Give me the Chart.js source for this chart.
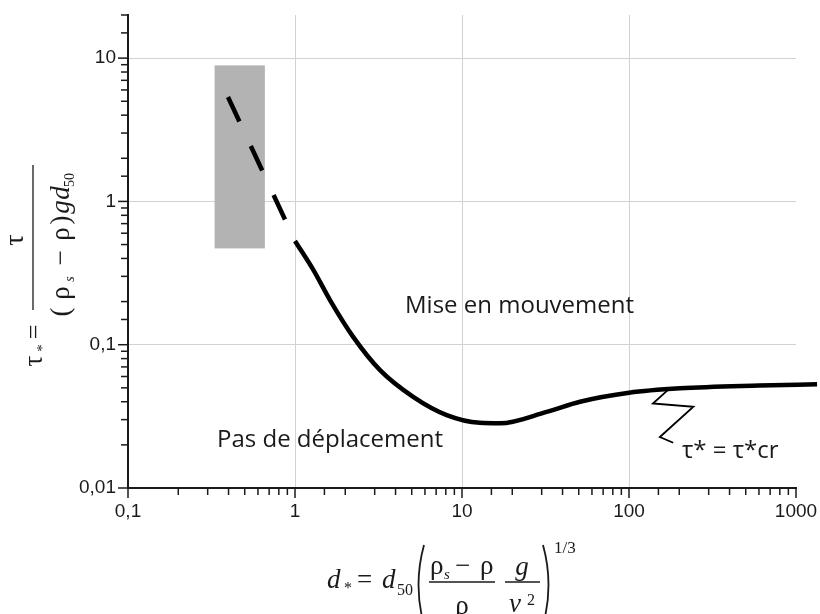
<!DOCTYPE html>
<html>
<head>
<meta charset="utf-8">
<script src="https://cdn.jsdelivr.net/npm/chart.js@4.4.1/dist/chart.umd.min.js"></script>
<style>
  html, body { margin: 0; padding: 0; background: #fff; }
  canvas { display: block; }
</style>
</head>
<body>
<canvas id="shields" width="820" height="614"></canvas>
<script>
'use strict';

// critical Shields curve: d* -> tau*cr (last point runs past the axis end, as in the figure)
const curveD = [1, 1.29, 1.62, 2.23, 3.23, 5.1, 8.1, 12.8, 16.9, 32.1, 50.9, 100, 202, 600, 1337];
const curveTau = [0.53, 0.332, 0.205, 0.1135, 0.0665, 0.0433, 0.0323, 0.0285, 0.0283, 0.034, 0.040, 0.0462, 0.0496, 0.0519, 0.053];

// extrapolated part (dashed)
const dashD = [0.397, 1];
const dashTau = [5.35, 0.53];

// grey zone
const zoneD = [0.33, 0.66];
const zoneTau = [0.47, 8.9];

// leader from the curve to its label
const leaderD = [176, 139, 243, 153, 184];
const leaderTau = [0.0498, 0.0389, 0.0369, 0.0227, 0.0207];

const xTickValues = [0.1, 1, 10, 100, 1000];
const xTickLabels = ['0,1', '1', '10', '100', '1000'];
const yTickValues = [0.01, 0.1, 1, 10];
const yTickLabels = ['0,01', '0,1', '1', '10'];
const xGridValues = [1, 10, 100];
const yGridValues = [0.1, 1, 10];

const INK = '#1a1a1a';
const SERIF = '"Liberation Serif", "DejaVu Serif", serif';
const SANS = '"Open Sans", "Noto Sans", sans-serif';

const sameValue = (a, b) => Math.abs(Math.log10(a) - Math.log10(b)) < 1e-6;
const isDecade = v => Math.abs(Math.log10(v) - Math.round(Math.log10(v))) < 1e-6;
const toPoints = (xs, ys) => xs.map((x, i) => ({ x, y: ys[i] }));

function tickLabel(values, labels) {
  return v => {
    const i = values.findIndex(t => sameValue(t, v));
    return i < 0 ? '' : labels[i];
  };
}

function gridColor(values) {
  return ctx => (ctx.tick && values.some(v => sameValue(v, ctx.tick.value)) ? '#d2d2d2' : 'rgba(0,0,0,0)');
}

// labels may overhang the plot area, like in the original figure
function noOverhang(s) {
  s.paddingLeft = s.paddingRight = s.paddingTop = s.paddingBottom = 0;
}

function drawTickMarks(ctx, scale, horizontal) {
  ctx.save();
  ctx.strokeStyle = INK;
  ctx.lineWidth = 1.5;
  scale.ticks.forEach(t => {
    const p = scale.getPixelForValue(t.value);
    const len = isDecade(t.value) ? 10 : 7;
    ctx.beginPath();
    if (horizontal) {
      ctx.moveTo(p, scale.top);
      ctx.lineTo(p, scale.top + len);
    } else {
      ctx.moveTo(scale.right, p);
      ctx.lineTo(scale.right - len, p);
    }
    ctx.stroke();
  });
  ctx.restore();
}

function txt(ctx, s, x, y, size, style, align) {
  ctx.font = `${style || ''} ${size}px ${SERIF}`;
  ctx.textAlign = align || 'left';
  ctx.fillText(s, x, y);
}

// tall thin parenthesis, dir = 1 for "(" and -1 for ")"
function bigParen(ctx, x, top, bottom, dir) {
  ctx.save();
  ctx.lineWidth = 1.8;
  ctx.beginPath();
  ctx.moveTo(x + 5 * dir, top);
  ctx.quadraticCurveTo(x - 6 * dir, (top + bottom) / 2, x + 5 * dir, bottom);
  ctx.stroke();
  ctx.restore();
}

function bar(ctx, x1, x2, y) {
  ctx.beginPath();
  ctx.moveTo(x1, y);
  ctx.lineTo(x2, y);
  ctx.stroke();
}

function drawXTitle(ctx) {
  ctx.save();
  ctx.fillStyle = INK;
  ctx.strokeStyle = INK;
  ctx.lineWidth = 1.3;
  txt(ctx, 'd', 327, 588, 27, 'italic');
  txt(ctx, '*', 344, 593, 16);
  txt(ctx, '=', 357, 588, 27);
  txt(ctx, 'd', 382, 588, 27, 'italic');
  txt(ctx, '50', 397, 595, 16);
  bigParen(ctx, 419, 545, 625, 1);
  txt(ctx, 'ρ', 430, 574, 27);
  txt(ctx, 's', 444, 579, 15, 'italic');
  txt(ctx, '−', 455, 574, 27);
  txt(ctx, 'ρ', 480, 574, 27);
  bar(ctx, 429, 495, 582);
  txt(ctx, 'ρ', 462, 614, 27, '', 'center');
  txt(ctx, 'g', 522, 575, 27, 'italic', 'center');
  bar(ctx, 505, 540, 582);
  txt(ctx, 'ν', 515, 612, 27, 'italic', 'center');
  txt(ctx, '2', 527, 605, 16);
  bigParen(ctx, 548, 545, 625, -1);
  txt(ctx, '1/3', 554, 553, 17);
  ctx.restore();
}

function drawYTitle(ctx) {
  ctx.save();
  ctx.translate(33, 370);
  ctx.rotate(-Math.PI / 2);
  ctx.fillStyle = INK;
  ctx.strokeStyle = INK;
  ctx.lineWidth = 1.3;
  txt(ctx, 'τ', 9, 9, 27, '', 'center');
  txt(ctx, '*', 22, 14, 15, '', 'center');
  txt(ctx, '=', 38, 9, 26, '', 'center');
  bar(ctx, 60, 205, 0);
  txt(ctx, 'τ', 130, -10, 28, '', 'center');
  const v = 36;
  txt(ctx, '(', 58, v, 27, '', 'center');
  txt(ctx, 'ρ', 77, v, 27, '', 'center');
  txt(ctx, 's', 91, v + 5, 14, 'italic', 'center');
  txt(ctx, '−', 112, v, 27, '', 'center');
  txt(ctx, 'ρ', 136, v, 27, '', 'center');
  txt(ctx, ')', 150, v, 27, '', 'center');
  txt(ctx, 'g', 163, v, 27, 'italic', 'center');
  txt(ctx, 'd', 177, v, 27, 'italic', 'center');
  txt(ctx, '50', 190, v + 5, 14, '', 'center');
  ctx.restore();
}

const extrasPlugin = {
  id: 'extras',
  beforeDatasetsDraw(chart) {
    const { ctx, scales: { x, y } } = chart;
    const left = x.getPixelForValue(zoneD[0]);
    const right = x.getPixelForValue(zoneD[1]);
    const top = y.getPixelForValue(zoneTau[1]);
    const bottom = y.getPixelForValue(zoneTau[0]);
    ctx.save();
    ctx.fillStyle = '#b3b3b3';
    ctx.fillRect(left, top, right - left, bottom - top);
    ctx.restore();
  },
  afterDraw(chart) {
    const { ctx, scales: { x, y } } = chart;
    drawTickMarks(ctx, x, true);
    drawTickMarks(ctx, y, false);

    ctx.save();
    ctx.fillStyle = INK;
    ctx.textBaseline = 'alphabetic';
    ctx.textAlign = 'left';
    ctx.font = `24px ${SANS}`;
    ctx.fillText('Mise en mouvement', 405, 313);
    ctx.fillText('Pas de déplacement', 217, 447);
    ctx.fillText('τ* = τ*cr', 682, 458);
    ctx.restore();

    drawXTitle(ctx);
    drawYTitle(ctx);
  },
};

const tickFont = { family: '"Liberation Sans", Arial, sans-serif', size: 19 };

new Chart(document.getElementById('shields').getContext('2d'), {
  type: 'line',
  data: {
    datasets: [
      {
        data: toPoints(curveD, curveTau),
        borderColor: '#000',
        borderWidth: 4.5,
        pointRadius: 0,
        cubicInterpolationMode: 'monotone',
        clip: false,
      },
      {
        data: toPoints(dashD, dashTau),
        borderColor: '#000',
        borderWidth: 4.5,
        borderDash: [27, 27],
        borderCapStyle: 'butt',
        pointRadius: 0,
        tension: 0,
        clip: false,
      },
      {
        data: toPoints(leaderD, leaderTau),
        borderColor: '#000',
        borderWidth: 1.8,
        borderJoinStyle: 'miter',
        pointRadius: 0,
        tension: 0,
        clip: false,
      },
    ],
  },
  options: {
    responsive: false,
    animation: false,
    events: [],
    layout: { padding: { top: 15, right: 24, left: 0, bottom: 0 } },
    plugins: { legend: { display: false }, tooltip: { enabled: false } },
    scales: {
      x: {
        type: 'logarithmic',
        min: 0.1,
        max: 1000,
        afterFit: s => { s.height = 126; noOverhang(s); },
        grid: { drawTicks: false, color: gridColor(xGridValues), lineWidth: 1 },
        border: { display: true, color: INK, width: 2 },
        ticks: {
          autoSkip: false,
          maxRotation: 0,
          padding: 12,
          color: INK,
          font: tickFont,
          callback: tickLabel(xTickValues, xTickLabels),
        },
      },
      y: {
        type: 'logarithmic',
        min: 0.01,
        max: 20,
        afterFit: s => { s.width = 128; noOverhang(s); },
        grid: { drawTicks: false, color: gridColor(yGridValues), lineWidth: 1 },
        border: { display: true, color: INK, width: 2 },
        ticks: {
          autoSkip: false,
          padding: 12,
          color: INK,
          font: tickFont,
          callback: tickLabel(yTickValues, yTickLabels),
        },
      },
    },
  },
  plugins: [extrasPlugin],
});
</script>
</body>
</html>
